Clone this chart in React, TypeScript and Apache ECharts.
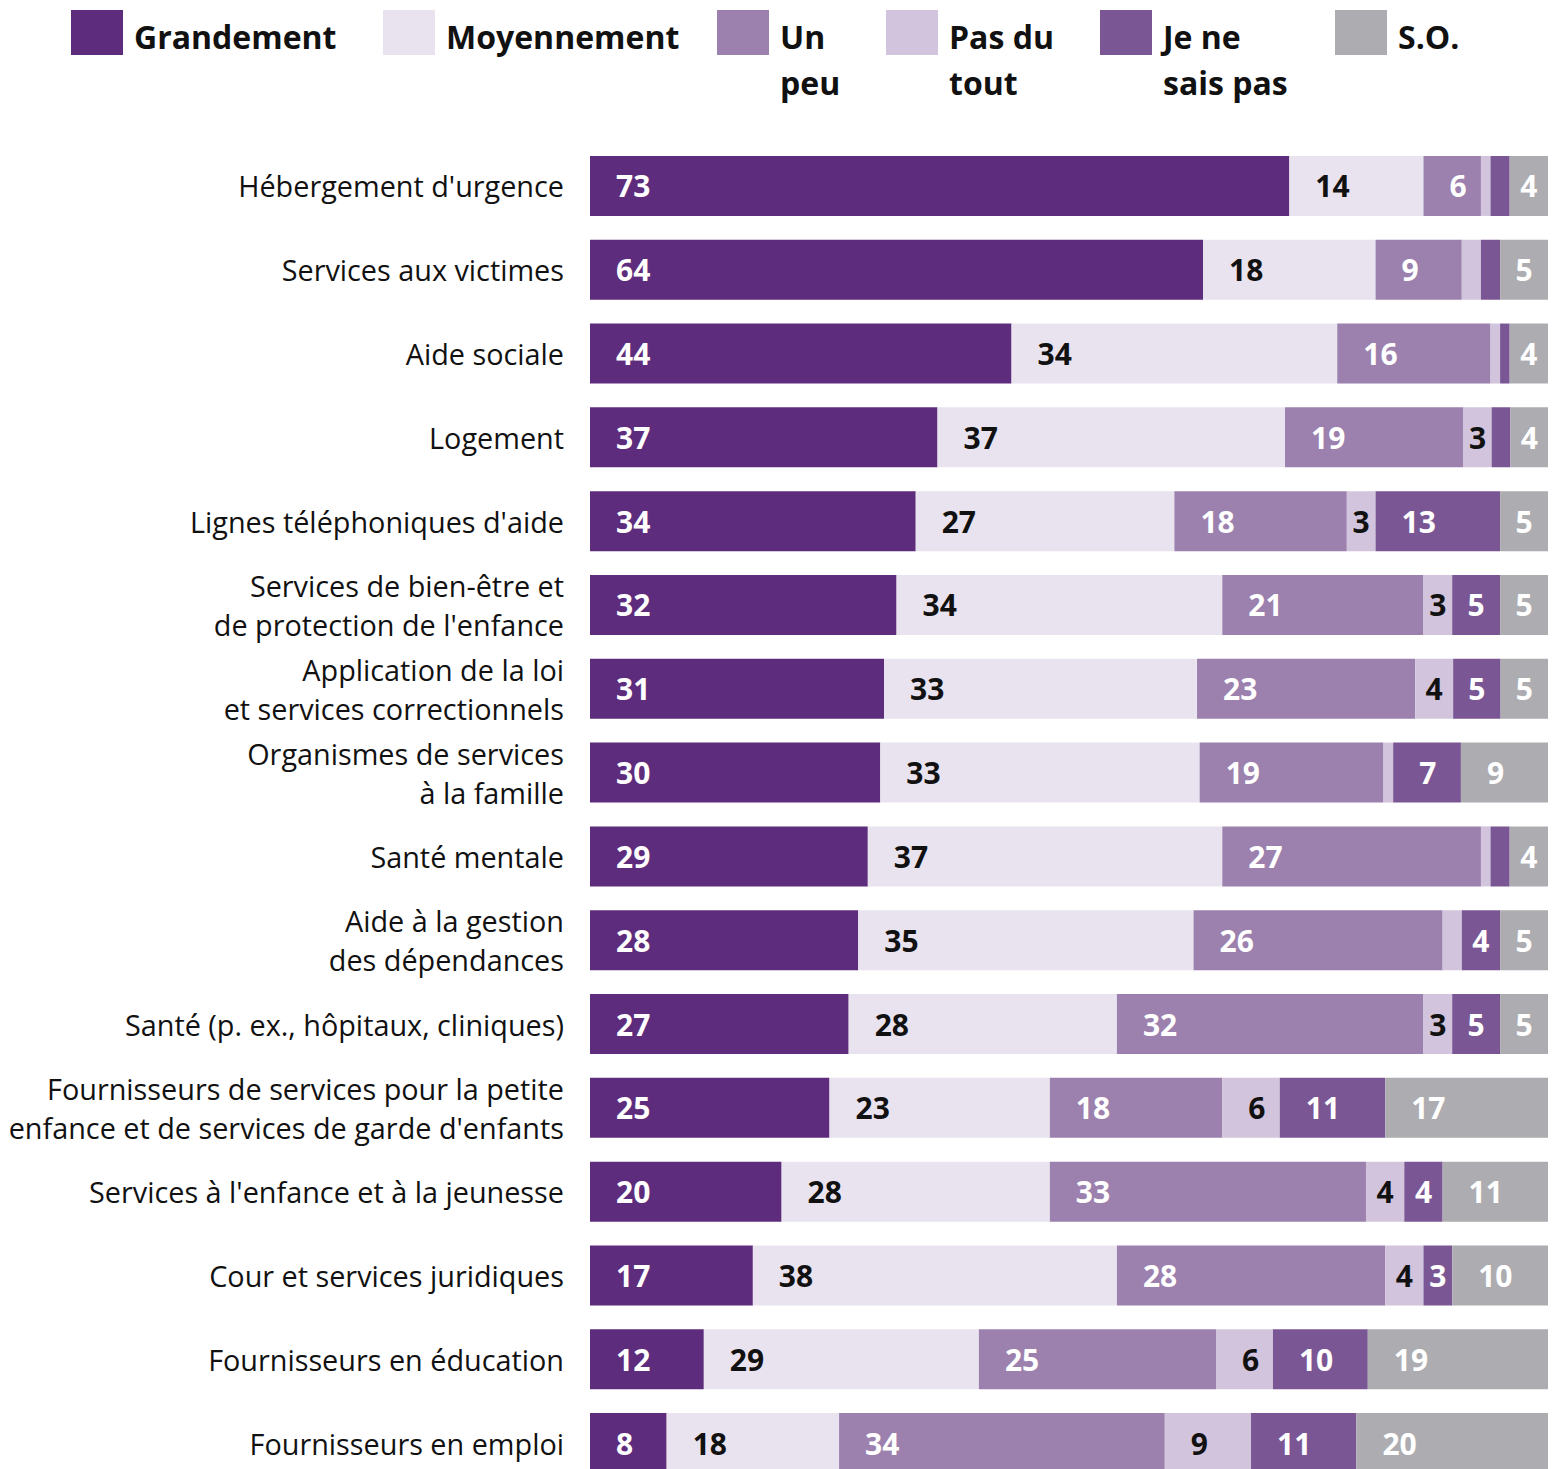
import React, { useEffect, useRef } from "react";
import * as echarts from "echarts";

const categories = [
  "Hébergement d'urgence",
  "Services aux victimes",
  "Aide sociale",
  "Logement",
  "Lignes téléphoniques d'aide",
  "Services de bien-être et\nde protection de l'enfance",
  "Application de la loi\net services correctionnels",
  "Organismes de services\nà la famille",
  "Santé mentale",
  "Aide à la gestion\ndes dépendances",
  "Santé (p. ex., hôpitaux, cliniques)",
  "Fournisseurs de services pour la petite\nenfance et de services de garde d'enfants",
  "Services à l'enfance et à la jeunesse",
  "Cour et services juridiques",
  "Fournisseurs en éducation",
  "Fournisseurs en emploi",
];

const seriesNames = ["Grandement", "Moyennement", "Un peu", "Pas du tout", "Je ne sais pas", "S.O."];
const legendLabels = ["Grandement", "Moyennement", "Un\npeu", "Pas du\ntout", "Je ne\nsais pas", "S.O."];

const grandement = [73, 64, 44, 37, 34, 32, 31, 30, 29, 28, 27, 25, 20, 17, 12, 8];
const moyennement = [14, 18, 34, 37, 27, 34, 33, 33, 37, 35, 28, 23, 28, 38, 29, 18];
const unPeu = [6, 9, 16, 19, 18, 21, 23, 19, 27, 26, 32, 18, 33, 28, 25, 34];
const pasDuTout = [1, 2, 1, 3, 3, 3, 4, 1, 1, 2, 3, 6, 4, 4, 6, 9];
const jeNeSaisPas = [2, 2, 1, 2, 13, 5, 5, 7, 2, 4, 5, 11, 4, 3, 10, 11];
const sansObjet = [4, 5, 4, 4, 5, 5, 5, 9, 4, 5, 5, 17, 11, 10, 19, 20];

const colors = ["#5e2c7d", "#e9e3ef", "#9c81ae", "#d1c4dc", "#7b5694", "#adadb1"];
const labelColors = ["#ffffff", "#111111", "#ffffff", "#111111", "#ffffff", "#ffffff"];

export default function App() {
  const ref = useRef<HTMLDivElement>(null);

  useEffect(() => {
    if (!ref.current) return;
    const chart = echarts.init(ref.current, null, { renderer: "svg" });
    const all = [grandement, moyennement, unPeu, pasDuTout, jeNeSaisPas, sansObjet];
    const sums = categories.map((_, i) => all.reduce((s, arr) => s + arr[i], 0));

    const series = all.map((arr, si) => ({
      name: seriesNames[si],
      type: "bar",
      stack: "total",
      barWidth: 60,
      itemStyle: { color: colors[si] },
      emphasis: { disabled: true },
      data: arr.map((v, i) => ({
        value: (v / sums[i]) * 100,
        raw: v,
        label: {
          show: v >= 3,
          position: v <= 5 ? "inside" : "insideLeft",
          distance: 26,
        },
      })),
      label: {
        color: labelColors[si],
        fontFamily: "Open Sans",
        fontWeight: "bold",
        fontSize: 30,
        formatter: (p: any) => String(p.data.raw),
      },
    }));

    const legendLefts = [71, 383, 717, 886, 1100, 1335];
    const legendGraphics: any[] = [];
    seriesNames.forEach((_, i) => {
      legendGraphics.push({
        type: "rect",
        left: legendLefts[i],
        top: 10,
        shape: { width: 52, height: 45 },
        style: { fill: colors[i] },
        silent: true,
      });
      legendGraphics.push({
        type: "text",
        left: legendLefts[i] + 63,
        top: 13,
        style: {
          text: legendLabels[i],
          fontFamily: "Open Sans",
          fontWeight: "bold",
          fontSize: 32,
          lineHeight: 46,
          fill: "#111111",
        },
        silent: true,
      });
    });

    chart.setOption({
      animation: false,
      graphic: legendGraphics,
      grid: {
        left: 590,
        right: 11,
        top: 144,
        height: 1341,
        containLabel: false,
        outerBoundsMode: "none",
      },
      xAxis: { type: "value", min: 0, max: 100, show: false },
      yAxis: {
        type: "category",
        inverse: true,
        data: categories,
        axisLine: { show: false },
        axisTick: { show: false },
        axisLabel: {
          margin: 26,
          fontFamily: "Open Sans",
          fontSize: 28.8,
          lineHeight: 39,
          color: "#111111",
          align: "right",
        },
      },
      series,
    });

    return () => chart.dispose();
  }, []);

  return (
    <div
      style={{
        position: "absolute",
        left: 0,
        top: 0,
        width: 1559,
        height: 1469,
        overflow: "hidden",
      }}
    >
      <div ref={ref} style={{ width: 1559, height: 1492 }} />
    </div>
  );
}
